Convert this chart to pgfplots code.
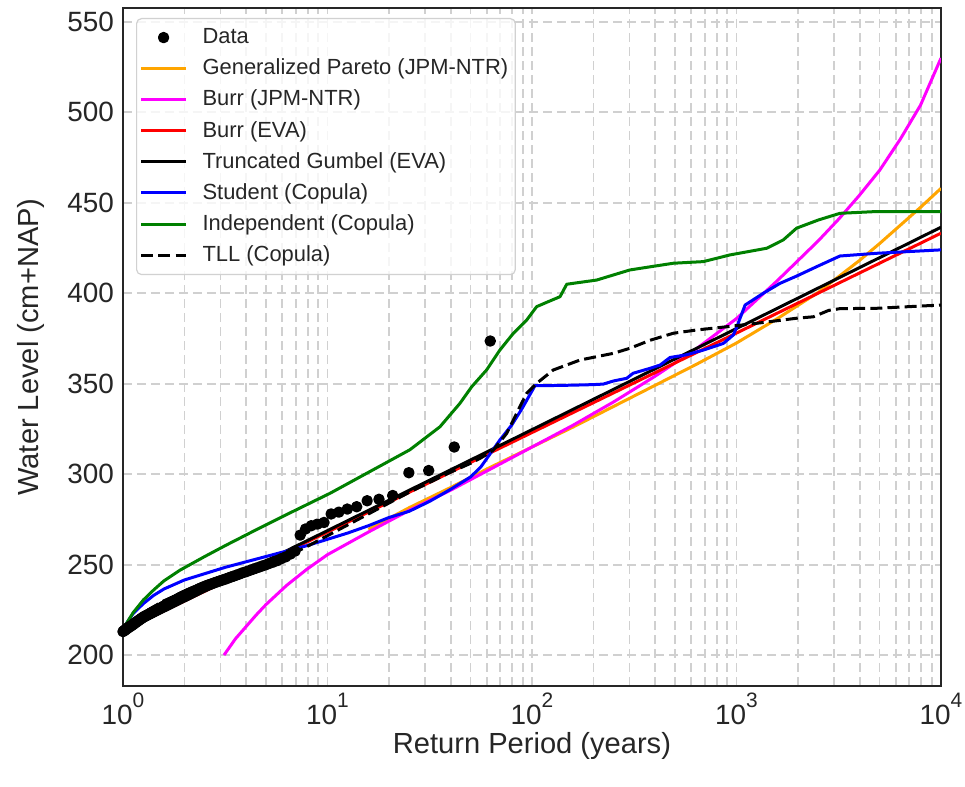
\documentclass[border=0pt]{standalone}
\usepackage{fontspec}
\setmainfont{Liberation Sans}
\usepackage{pgfplots}
\pgfplotsset{compat=1.18}
\usepackage{pgfplotstable}

\definecolor{mplorange}{RGB}{255,165,0}
\definecolor{mplgreen}{RGB}{0,128,0}
\definecolor{mplmagenta}{RGB}{255,0,255}
\definecolor{mplred}{RGB}{255,0,0}
\definecolor{mplblue}{RGB}{0,0,255}
\definecolor{framegray}{RGB}{38,38,38}
\definecolor{gridgray}{RGB}{208,208,208}

% observed annual maxima: return period (years) and water level (cm+NAP)
\pgfplotstableread{
T W
62.5 373.6
41.67 315.0
31.25 302.0
25.0 300.8
20.83 288.2
17.86 286.1
15.63 285.3
13.89 282.0
12.5 280.7
11.36 279.0
10.42 278.0
9.615 273.3
8.929 272.4
8.333 271.5
7.813 269.7
7.353 266.3
6.944 257.5
6.579 255.8
6.25 254.3
5.952 253.3
5.682 252.2
5.435 251.4
5.208 250.7
5.0 249.9
4.808 249.3
4.630 248.6
4.464 248.0
4.310 247.4
4.167 246.8
4.032 246.2
3.906 245.7
3.788 245.2
3.676 244.6
3.571 244.1
3.472 243.6
3.378 243.2
3.289 242.7
3.205 242.2
3.125 241.8
3.049 241.4
2.976 241.0
2.907 240.6
2.841 240.2
2.778 239.8
2.717 239.4
2.660 239.0
2.604 238.7
2.551 238.3
2.5 237.9
2.451 237.5
2.404 237.1
2.358 236.7
2.315 236.2
2.273 235.8
2.232 235.4
2.193 235.1
2.155 234.7
2.119 234.3
2.083 234.0
2.049 233.6
2.016 233.2
1.984 232.8
1.953 232.5
1.923 232.1
1.894 231.7
1.866 231.3
1.838 230.9
1.812 230.5
1.786 230.1
1.761 229.8
1.736 229.4
1.712 229.1
1.689 228.7
1.667 228.4
1.645 228.0
1.623 227.7
1.603 227.3
1.582 227.0
1.563 226.7
1.543 226.3
1.524 226.0
1.506 225.7
1.488 225.4
1.471 225.1
1.453 224.8
1.437 224.5
1.420 224.2
1.404 223.9
1.389 223.6
1.374 223.3
1.359 223.0
1.344 222.7
1.330 222.5
1.316 222.2
1.302 221.9
1.289 221.6
1.276 221.4
1.263 221.1
1.25 220.8
1.238 220.4
1.225 220.1
1.214 219.8
1.202 219.4
1.190 219.1
1.179 218.8
1.168 218.4
1.157 218.1
1.147 217.8
1.136 217.5
1.126 217.1
1.116 216.8
1.106 216.5
1.096 216.2
1.087 215.9
1.078 215.6
1.068 215.4
1.059 215.1
1.050 214.8
1.042 214.5
1.033 214.2
1.025 213.9
1.016 213.6
1.008 213.3
1.0 213.0
}\dataPts

% Generalized Pareto (JPM-NTR)
\pgfplotstableread{
T W
15.85 269.5
25.12 281.5
39.81 292.5
63.10 304
100 315
158.5 326
251.2 337.5
398.1 349
631.0 360.5
1000 372.5
1585 386
2512 400.5
3981 418
5012 427.5
6310 437.5
7943 447.5
10000 458
}\gpJPM

% Burr (JPM-NTR)
\pgfplotstableread{
T W
3.119 200
3.548 209
3.981 215.5
4.467 222
5.012 228
6.310 238.5
7.943 247.5
10 255.5
15.85 268
25.12 280
39.81 291
63.10 303
100 315
158.5 327
251.2 340
398.1 354
631.0 369
1000 386
1585 407
2512 429
3162 441
3981 454
5012 468
6310 485
7943 504
10000 530
}\burrJPM

% Burr (EVA)
\pgfplotstableread{
T W
1 213.5
10 268
100 323
1000 378
10000 433.2
}\burrEVA

% Truncated Gumbel (EVA)
\pgfplotstableread{
T W
1 213
10 268.8
100 324.6
1000 380.5
10000 436.5
}\tgEVA

% Student copula
\pgfplotstableread{
T W
1 212.5
1.047 218
1.122 223
1.259 228.5
1.413 233
1.585 236.5
1.995 241.5
2.512 245
3.162 248.5
3.981 251.5
5.012 254.5
6.310 257.5
7.943 260.5
10 264
12.59 267.5
15.85 271.5
19.95 276
25.12 279.5
31.62 285
39.81 291.5
50.12 298.5
56.23 304
63.10 312
69.66 318.9
79.43 327
89.13 336
97.72 344
103.5 349
125.9 349
158.5 349.2
199.5 349.5
223.4 349.8
250.0 351.5
290.4 353
312.6 355.8
377.6 358.5
422.7 360.3
473.2 364.5
570.2 366
688.7 368.6
863.0 372.3
966.1 377
1000 381
1102 393.5
1352 400
1633 405.5
1968 409.5
2466 414.7
3206 420.6
4842 422.1
10000 424
}\studentCop

% Independent copula
\pgfplotstableread{
T W
1 214
1.047 218
1.122 223.5
1.259 230.5
1.413 236
1.585 241
1.905 247
2.512 254.5
3.162 260.5
4.487 269.3
6.531 278.5
10.28 289.4
18.07 304.5
25.29 313.5
35.48 326.2
44.46 339.2
50.70 348.3
59.98 357.6
69.66 368.6
81.10 377.9
94.19 385.2
105.4 392.6
118.0 395
137.1 398.1
147.9 405
207.0 407.3
301.3 412.9
490.9 416.6
688.7 417.5
929.0 421.2
1406 424.9
1694 429.5
1968 436
2512 440.5
3206 444.2
4667 445.1
10000 445.1
}\indepCop

% TLL copula
\pgfplotstableread{
T W
1 212
1.122 218.5
1.259 223.5
1.585 230
1.995 235
2.512 239
3.162 242.5
3.981 246
5.012 250
6.310 254.5
7.943 260
10 266
15.85 278
25.12 290
39.81 301
50.12 306
56.23 309
64.71 313.3
75.16 322.5
87.30 337.3
94.19 344.7
105.4 350.2
127.1 357.6
171.8 363.1
250.0 366.8
301.3 369.6
377.6 374
490.9 377.9
638.3 379.7
895.4 381.5
1256 383.4
1968 386.2
2377 387
2818 390.5
3206 391.5
4842 391.7
10000 393.5
}\tllCop

\newcommand{\tenpow}[1]{10\raisebox{0.6em}{\fontsize{10.5}{11}\selectfont #1}}

\begin{document}
\begin{tikzpicture}
\useasboundingbox (-61.5bp,-50.5bp) rectangle (421bp,343bp);
\begin{axis}[
  scale only axis,
  width=409bp, height=339bp,
  xmode=log, log basis x=10,
  xmin=1, xmax=10000, ymin=182.9, ymax=557.7,
  xtick={1,10,100,1000,10000},
  xticklabels={\tenpow{0},\tenpow{1},\tenpow{2},\tenpow{3},\tenpow{4}},
  minor xtick={2,3,4,5,6,7,8,9,20,30,40,50,60,70,80,90,200,300,400,500,600,700,800,900,2000,3000,4000,5000,6000,7000,8000,9000},
  ytick={200,250,300,350,400,450,500,550},
  xmajorgrids, xminorgrids, ymajorgrids,
  major grid style={gridgray, line width=0.9bp, dash pattern=on 4.5bp off 2.5bp},
  minor grid style={gridgray, line width=0.9bp, dash pattern=on 4.5bp off 2.5bp},
  major tick length=0pt, minor tick length=0pt,
  axis line style={framegray, line width=1.2bp},
  /pgf/number format/assume math mode=true,
  ticklabel style={font=\fontsize{14}{16}\selectfont, text=black!85},
  yticklabel shift=1bp,
  xticklabel shift=0bp,
  xlabel={Return Period (years)},
  ylabel={Water Level (cm+NAP)},
  label style={font=\fontsize{14.6}{17}\selectfont, text=black!85},
  xlabel style={at={(axis description cs:0.5,-0.1)}, anchor=base},
  ylabel style={at={(axis description cs:-0.1027,0.5)}, anchor=base},
  legend cell align=left,
  legend style={
    at={(axis description cs:0.0159,0.9853)}, anchor=north west,
    draw=black!18, fill=white, fill opacity=0.8, text opacity=1, draw opacity=1,
    rounded corners=2.5bp, line width=0.6bp,
    font=\fontsize{11}{13}\selectfont, text=black!85,
    inner xsep=1.5bp, inner ysep=3bp,
    row sep=2.15bp,
    /tikz/every odd column/.append style={column sep=5.5bp},
  },
  legend image code/.code={\draw[#1, line width=1.5bp] (0bp,0bp) -- (22.5bp,0bp);},
  every axis plot/.append style={line width=1.5bp, line join=round},
]
\addplot[only marks, mark=*, mark size=2.1bp, draw=black, fill=black,
  legend image code/.code={\fill[black, fill opacity=1] (11.25bp,0bp) circle (2.1bp);}]
  table[x=T,y=W] {\dataPts};
\addlegendentry{Data}
\addplot[mplorange, no marks] table[x=T,y=W] {\gpJPM};
\addlegendentry{Generalized Pareto (JPM-NTR)}
\addplot[mplmagenta, no marks] table[x=T,y=W] {\burrJPM};
\addlegendentry{Burr (JPM-NTR)}
\addplot[mplred, no marks] table[x=T,y=W] {\burrEVA};
\addlegendentry{Burr (EVA)}
\addplot[black, no marks] table[x=T,y=W] {\tgEVA};
\addlegendentry{Truncated Gumbel (EVA)}
\addplot[mplblue, no marks] table[x=T,y=W] {\studentCop};
\addlegendentry{Student (Copula)}
\addplot[mplgreen, no marks] table[x=T,y=W] {\indepCop};
\addlegendentry{Independent (Copula)}
\addplot[black, no marks, dash pattern=on 6bp off 2.6bp] table[x=T,y=W] {\tllCop};
\addlegendentry{TLL (Copula)}
\end{axis}
\end{tikzpicture}
\end{document}
